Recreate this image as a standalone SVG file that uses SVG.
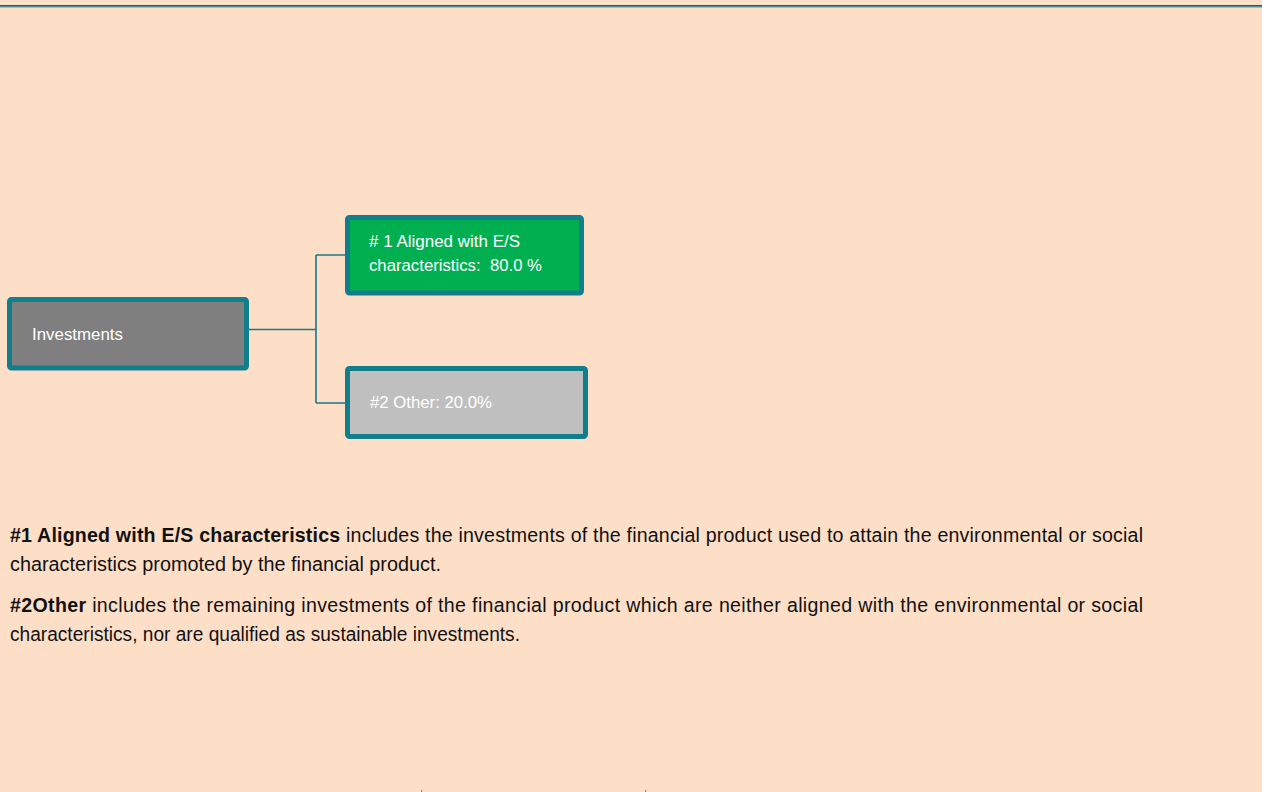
<svg xmlns="http://www.w3.org/2000/svg" width="1262" height="792" viewBox="0 0 1262 792">
<style>
.box{stroke:#117E8C;stroke-width:5}
.lbl{font-family:"Liberation Sans",Arial,sans-serif;fill:#FFFFFF}
.conn{fill:none;stroke:#1B7884;stroke-width:1.6}
.para{font-family:"Liberation Sans",Arial,sans-serif;font-size:19.6px;fill:#111111}
.b{font-weight:bold}
</style>
<rect x="0" y="0" width="1262" height="792" fill="#FDDFC8"/>
<rect x="0" y="5" width="1262" height="1.2" fill="#16606E"/>
<rect x="0" y="6.2" width="1262" height="1.2" fill="#2A8494"/>
<g id="connectors">
<path class="conn" d="M249 329.5 H316 M316 255 V403 M316 255 H346 M316 403 H346"/>
</g>
<g id="investments">
<rect class="box" x="9.5" y="299.5" width="237" height="68.5" rx="2" fill="#7F7F7F"/>
<text class="lbl" x="32" y="340" font-size="16.5" textLength="91" lengthAdjust="spacingAndGlyphs">Investments</text>
</g>
<g id="aligned">
<rect class="box" x="347.5" y="217.5" width="234" height="75.5" rx="2" fill="#00B050"/>
<text class="lbl" x="369" y="247" font-size="16" textLength="151" lengthAdjust="spacingAndGlyphs">#&#160;1 Aligned with E/S</text>
<text class="lbl" x="369" y="271" font-size="16" textLength="173" lengthAdjust="spacingAndGlyphs">characteristics:&#160; 80.0 %</text>
</g>
<g id="other">
<rect class="box" x="347.5" y="368.5" width="238" height="68" rx="2" fill="#BFBFBF"/>
<text class="lbl" x="370" y="408" font-size="16" fill="#F4F4F4" textLength="122" lengthAdjust="spacingAndGlyphs">#2 Other: 20.0%</text>
</g>
<g id="legend">
<text class="para" x="10" y="542" textLength="1133" lengthAdjust="spacing"><tspan class="b">#1 Aligned with E/S characteristics</tspan> includes the investments of the financial product used to attain the environmental or social</text>
<text class="para" x="10" y="570.5" textLength="431" lengthAdjust="spacingAndGlyphs">characteristics promoted by the financial product.</text>
<text class="para" x="10" y="612" textLength="1133" lengthAdjust="spacing"><tspan class="b">#2Other</tspan> includes the remaining investments of the financial product which are neither aligned with the environmental or social</text>
<text class="para" x="10" y="640.5" textLength="510" lengthAdjust="spacingAndGlyphs">characteristics, nor are qualified as sustainable investments.</text>
</g>
<rect x="421" y="790" width="1.2" height="2" fill="#9A8F88"/>
<rect x="645" y="790" width="1.2" height="2" fill="#9A8F88"/>
</svg>
